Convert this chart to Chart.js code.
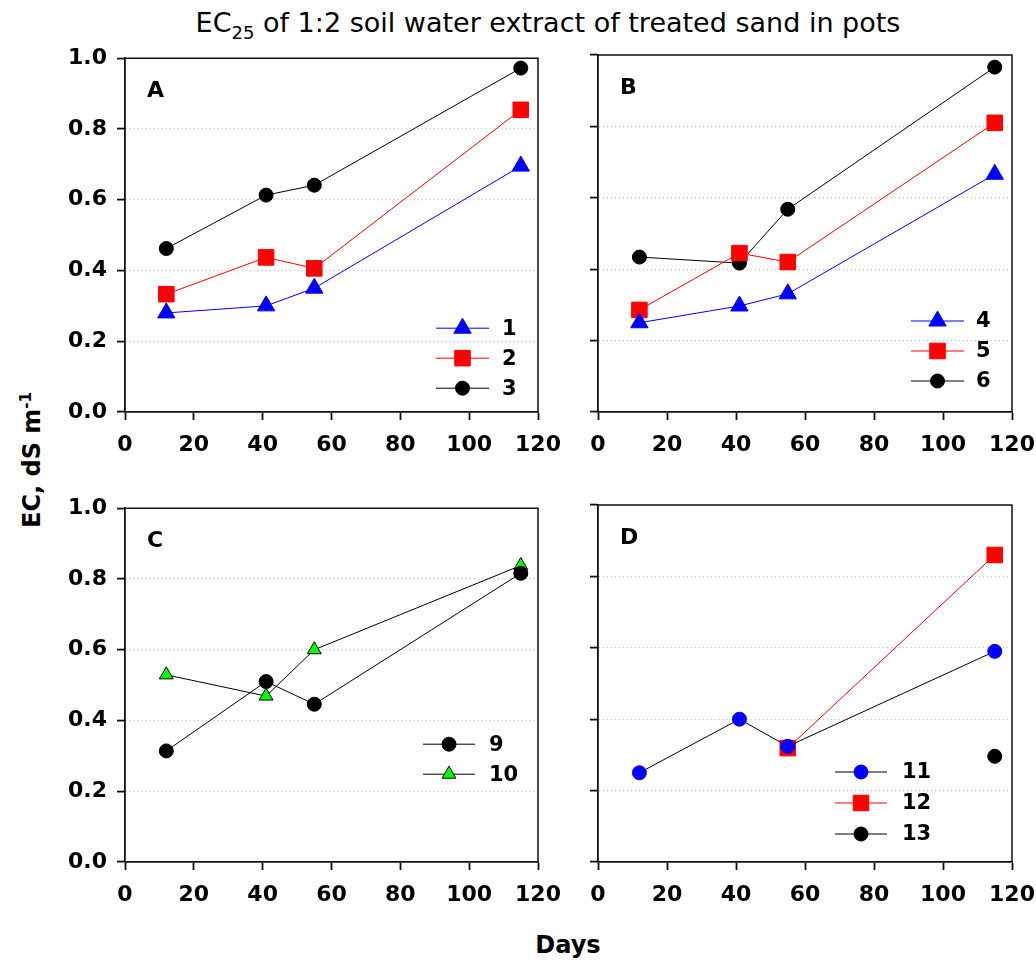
<!DOCTYPE html>
<html>
<head>
<meta charset="utf-8">
<script src="https://cdn.jsdelivr.net/npm/chart.js@4.4.0/dist/chart.umd.min.js"></script>
<style>
  body { margin: 0; background: #fff; }
  #fig { position: relative; width: 1036px; height: 969px; font-family: "DejaVu Sans", sans-serif; color: #000; }
  #fig canvas { position: absolute; }
  #title { position: absolute; left: 548px; top: 22px; transform: translate(-50%, -50%); white-space: nowrap; font-size: 27px; }
  #title sub { font-size: 18px; vertical-align: -7px; line-height: 0; }
  #ytitle { position: absolute; left: 32px; top: 460px; transform: translate(-50%, -50%) rotate(-90deg); white-space: nowrap; font-size: 24px; font-weight: bold; }
  #ytitle sup { font-size: 15px; vertical-align: 9px; line-height: 0; }
  #xtitle { position: absolute; left: 568px; top: 945px; transform: translate(-50%, -50%); font-size: 24px; font-weight: bold; }
</style>
</head>
<body>
<div id="fig">
  <div id="title">EC<sub>25</sub> of 1:2 soil water extract of treated sand in pots</div>
  <div id="ytitle">EC, dS m<sup>-1</sup></div>
  <div id="xtitle">Days</div>
  <canvas id="chartA"></canvas>
  <canvas id="chartB"></canvas>
  <canvas id="chartC"></canvas>
  <canvas id="chartD"></canvas>
</div>
<script>
// sampling days and axis ticks
const days = [12, 41, 55, 115];
const xTickValues = [0, 20, 40, 60, 80, 100, 120];
const yTickValues = [0, 0.2, 0.4, 0.6, 0.8, 1.0];

// panel A
const a1 = [0.28, 0.30, 0.35, 0.695];
const a2 = [0.333, 0.437, 0.406, 0.854];
const a3 = [0.462, 0.613, 0.641, 0.972];
// panel B
const b4 = [0.25, 0.297, 0.331, 0.666];
const b5 = [0.286, 0.445, 0.42, 0.81];
const b6 = [0.434, 0.417, 0.568, 0.966];
// panel C
const c9 = [0.314, 0.51, 0.446, 0.816];
const c10 = [0.529, 0.469, 0.60, 0.838];
// panel D
const d11 = [0.25, 0.40, 0.324, 0.59];
const d12 = [null, null, 0.319, 0.86];
const d13 = [null, null, null, 0.296];

const FONT = '"DejaVu Sans", sans-serif';
const AXIS = '#111';
const PAD_L = 75, PAD_T = 20, PAD_R = 40, PAD_B = 45;

function points(values) {
    return days.map((d, i) => ({ x: d, y: values[i] }));
}

function series(label, values, style, radius, fill, border, line) {
    return {
        label: label,
        data: points(values),
        borderColor: line,
        borderWidth: 1,
        pointStyle: style,
        pointRadius: radius,
        pointHoverRadius: radius,
        pointBackgroundColor: fill,
        pointBorderColor: border,
        pointBorderWidth: 1,
        spanGaps: false
    };
}

// legend marker, same geometry as Chart.js point styles
function drawMarker(ctx, ds, x, y) {
    const r = ds.pointRadius;
    ctx.save();
    ctx.fillStyle = ds.pointBackgroundColor;
    ctx.strokeStyle = ds.pointBorderColor;
    ctx.lineWidth = 1;
    ctx.beginPath();
    if (ds.pointStyle === 'triangle') {
        for (let k = 0; k < 3; k++) {
            const a = k * 2 * Math.PI / 3;
            const px = x + Math.sin(a) * r, py = y - Math.cos(a) * r;
            if (k === 0) ctx.moveTo(px, py); else ctx.lineTo(px, py);
        }
        ctx.closePath();
    } else if (ds.pointStyle === 'rect') {
        const s = r * Math.SQRT1_2;
        ctx.rect(x - s, y - s, 2 * s, 2 * s);
    } else {
        ctx.arc(x, y, r, 0, 2 * Math.PI);
    }
    ctx.fill();
    ctx.stroke();
    ctx.restore();
}

const panelDecor = {
    id: 'panelDecor',
    afterDraw(chart, args, opts) {
        const ctx = chart.ctx;
        const a = chart.chartArea;
        ctx.save();
        // top and right frame
        ctx.strokeStyle = AXIS;
        ctx.lineWidth = 1.5;
        ctx.beginPath();
        ctx.moveTo(a.left, a.top);
        ctx.lineTo(a.right, a.top);
        ctx.lineTo(a.right, a.bottom);
        ctx.stroke();
        // panel letter
        ctx.fillStyle = '#000';
        ctx.font = 'bold 22px ' + FONT;
        ctx.textBaseline = 'middle';
        ctx.textAlign = 'left';
        ctx.fillText(opts.letter, a.left + 22, a.top + 33);
        // legend
        const lg = opts.legend;
        ctx.font = 'bold 21px ' + FONT;
        chart.data.datasets.forEach((ds, i) => {
            const y = a.top + lg.rows[i];
            ctx.strokeStyle = ds.borderColor;
            ctx.lineWidth = 1;
            ctx.beginPath();
            ctx.moveTo(a.left + lg.x0, y);
            ctx.lineTo(a.left + lg.x1, y);
            ctx.stroke();
            drawMarker(ctx, ds, a.left + (lg.x0 + lg.x1) / 2, y);
            ctx.fillStyle = '#000';
            ctx.fillText(ds.label, a.left + lg.tx, y + 1);
        });
        ctx.restore();
    }
};

function makePanel(canvasId, box, letter, showY, datasets, legend) {
    const cv = document.getElementById(canvasId);
    const w = box.right - box.left + PAD_L + PAD_R;
    const h = box.bottom - box.top + PAD_T + PAD_B;
    cv.width = w;
    cv.height = h;
    cv.style.left = (box.left - PAD_L) + 'px';
    cv.style.top = (box.top - PAD_T) + 'px';
    cv.style.width = w + 'px';
    cv.style.height = h + 'px';

    return new Chart(cv.getContext('2d'), {
        type: 'line',
        data: { datasets: datasets },
        options: {
            responsive: false,
            animation: false,
            devicePixelRatio: 1,
            layout: { padding: { left: 0, top: PAD_T, right: PAD_R, bottom: 0 } },
            plugins: {
                legend: { display: false },
                tooltip: { enabled: false },
                panelDecor: { letter: letter, legend: legend }
            },
            scales: {
                x: {
                    type: 'linear',
                    min: 0,
                    max: 120,
                    afterBuildTicks: axis => { axis.ticks = xTickValues.map(v => ({ value: v })); },
                    afterFit: axis => { axis.height = PAD_B; },
                    border: { color: AXIS, width: 1.8 },
                    grid: { drawOnChartArea: false, drawTicks: true, tickLength: 8, tickColor: AXIS, tickWidth: 1.8 },
                    ticks: { color: '#000', padding: 12, maxRotation: 0, font: { family: FONT, size: 22, weight: 'bold' }, callback: v => String(v) }
                },
                y: {
                    type: 'linear',
                    min: 0,
                    max: 1,
                    afterBuildTicks: axis => { axis.ticks = yTickValues.map(v => ({ value: v })); },
                    afterFit: axis => { axis.width = PAD_L; },
                    border: { color: AXIS, width: 1.8, dash: [1, 3] },
                    grid: {
                        drawTicks: true,
                        tickLength: 8,
                        tickColor: AXIS,
                        tickWidth: 1.8,
                        tickBorderDash: [],
                        lineWidth: 1.2,
                        color: c => (c.tick && c.tick.value > 0.01 && c.tick.value < 0.99) ? '#bdbdbd' : 'rgba(0,0,0,0)'
                    },
                    ticks: { display: showY, color: '#000', padding: 10, font: { family: FONT, size: 22, weight: 'bold' }, callback: v => Number(v).toFixed(1) }
                }
            }
        },
        plugins: [panelDecor]
    });
}

document.addEventListener('DOMContentLoaded', function () {
    const BLUE = '#0000ff', RED = '#ff0000', BLACK = '#000000', GREEN = '#00ff00';

    makePanel('chartA', { left: 125, top: 55, right: 538, bottom: 412 }, 'A', true, [
        series('1', a1, 'triangle', 10, BLUE, BLUE, BLUE),
        series('2', a2, 'rect', 11, RED, RED, RED),
        series('3', a3, 'circle', 7, BLACK, BLACK, BLACK)
    ], { x0: 311, x1: 364, tx: 377, rows: [270, 300, 330] });

    makePanel('chartB', { left: 598, top: 55, right: 1012, bottom: 412 }, 'B', false, [
        series('4', b4, 'triangle', 10, BLUE, BLUE, BLUE),
        series('5', b5, 'rect', 11, RED, RED, RED),
        series('6', b6, 'circle', 7, BLACK, BLACK, BLACK)
    ], { x0: 313, x1: 366, tx: 378, rows: [266, 296, 326] });

    makePanel('chartC', { left: 125, top: 505, right: 538, bottom: 862 }, 'C', true, [
        series('9', c9, 'circle', 7, BLACK, BLACK, BLACK),
        series('10', c10, 'triangle', 8, GREEN, BLACK, BLACK)
    ], { x0: 298, x1: 350, tx: 364, rows: [236, 266] });

    makePanel('chartD', { left: 598, top: 505, right: 1012, bottom: 862 }, 'D', false, [
        series('11', d11, 'circle', 7, BLUE, BLUE, BLACK),
        series('12', d12, 'rect', 11, RED, RED, RED),
        series('13', d13, 'circle', 7, BLACK, BLACK, BLACK)
    ], { x0: 237, x1: 289, tx: 304, rows: [267, 298, 329] });
});
</script>
</body>
</html>
